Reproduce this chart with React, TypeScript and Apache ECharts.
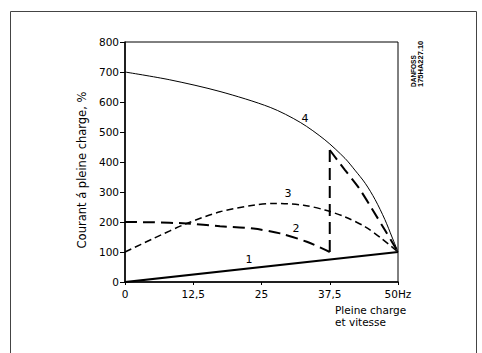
import React, { useEffect, useRef } from "react";
import * as echarts from "echarts";

const xTickValues = [0, 12.5, 25, 37.5, 50];
const xTickLabels = ["0", "12,5", "25", "37,5", "50Hz"];
const yTickValues = [0, 100, 200, 300, 400, 500, 600, 700, 800];

const curve1 = [[0, 0], [50, 100]];
const curve2Left = [[0, 200], [5, 199], [11.3, 195], [17.4, 186], [23.5, 178], [28.4, 162], [33.3, 134], [37.5, 100]];
const curve2Drop = [[37.5, 100], [37.5, 440]];
const curve2Right = [[37.5, 440], [40.3, 373], [42.7, 317], [45.2, 245], [47.6, 173], [50, 100]];
const curve3 = [[0, 100], [5.2, 145], [11.3, 195], [17.4, 234], [23.5, 256], [27.2, 262], [32.7, 256], [36.6, 240], [40.3, 217], [44, 184], [47, 145], [50, 100]];
const curve4 = [[0, 700], [8.2, 674], [17.4, 635], [26.6, 582], [32.1, 532], [36.6, 474], [40.3, 412], [42.1, 373], [44, 329], [45.8, 275], [47.6, 208], [48.9, 150], [50, 100]];

const curveNames = ["1", "2", "3", "4"];
const yAxisTitle = "Courant á pleine charge, %";
const xAxisTitle = "Pleine charge\net vitesse";
const stampLines = ["DANFOSS", "175HA227.10"];

const FONT = "DejaVu Sans";

export default function App() {
  const ref = useRef<HTMLDivElement>(null);
  useEffect(() => {
    if (!ref.current) return;
    const chart = echarts.init(ref.current, undefined, { renderer: "svg" });
    const lineSeries = (name: string, data: number[][], width: number, type: any, smooth: boolean | number) => ({
      name,
      type: "line",
      data,
      smooth,
      showSymbol: false,
      symbol: "none",
      silent: true,
      lineStyle: { color: "#000", width, type },
    });
    chart.setOption({
      animation: false,
      backgroundColor: "#fff",
      grid: { left: 125, top: 42, right: 84, bottom: 71, show: true, borderColor: "#000", borderWidth: 1, backgroundColor: "transparent" },
      xAxis: {
        type: "value",
        min: 0,
        max: 50,
        interval: 12.5,
        splitLine: { show: false },
        axisLine: { lineStyle: { color: "#000", width: 1.5 } },
        axisTick: { show: true, inside: false, length: 3, lineStyle: { color: "#000", width: 1 } },
        axisLabel: {
          margin: 6,
          color: "#000",
          fontFamily: FONT,
          fontSize: 10.5,
          formatter: (v: number) => {
            const i = xTickValues.indexOf(v);
            return i >= 0 ? xTickLabels[i] : "";
          },
        },
      },
      yAxis: {
        type: "value",
        min: 0,
        max: 800,
        interval: 100,
        name: yAxisTitle,
        nameLocation: "middle",
        nameGap: 37,
        nameRotate: 90,
        nameTextStyle: { color: "#000000", fontFamily: FONT, fontSize: 11.5, padding: [0, 16, 0, 0] },
        splitLine: { show: false },
        axisLine: { lineStyle: { color: "#000", width: 1.5 } },
        axisTick: { show: true, inside: false, length: 5, lineStyle: { color: "#000", width: 1 } },
        axisLabel: {
          margin: 6,
          color: "#000",
          fontFamily: FONT,
          fontSize: 10.5,
          formatter: (v: number) => (yTickValues.indexOf(v) >= 0 ? String(v) : ""),
        },
      },
      series: [
        lineSeries(curveNames[0], curve1, 2.2, "solid", false),
        lineSeries(curveNames[1], curve2Left, 2, [12, 6], 0.3),
        lineSeries(curveNames[1], curve2Drop, 2, [12, 6], false),
        lineSeries(curveNames[1], curve2Right, 2, [12, 6], 0.3),
        lineSeries(curveNames[2], curve3, 1.5, [7, 4], 0.3),
        lineSeries(curveNames[3], curve4, 1, "solid", 0.3),
      ],
      graphic: [
        { type: "rect", silent: true, shape: { x: 10.5, y: 11.5, width: 466, height: 360 }, style: { fill: "none", stroke: "#444", lineWidth: 1 } },
        { type: "text", x: 249, y: 259, style: { text: curveNames[0], font: `11px "${FONT}"`, fill: "#000", align: "center", verticalAlign: "middle" } },
        { type: "text", x: 296, y: 228, style: { text: curveNames[1], font: `11px "${FONT}"`, fill: "#000", align: "center", verticalAlign: "middle" } },
        { type: "text", x: 288, y: 193, style: { text: curveNames[2], font: `11px "${FONT}"`, fill: "#000", align: "center", verticalAlign: "middle" } },
        { type: "text", x: 305, y: 118, style: { text: curveNames[3], font: `11px "${FONT}"`, fill: "#000", align: "center", verticalAlign: "middle" } },
        { type: "text", x: 335, y: 304, style: { text: xAxisTitle, font: `10.5px "${FONT}"`, fill: "#000", align: "left", verticalAlign: "top", lineHeight: 12 } },
        { type: "text", x: 413, y: 87, rotation: Math.PI / 2, style: { text: stampLines[0], font: `bold 6.5px "Liberation Sans"`, fill: "#000", align: "left", verticalAlign: "middle" } },
        { type: "text", x: 420.5, y: 87, rotation: Math.PI / 2, style: { text: stampLines[1], font: `bold 7.5px "Liberation Sans"`, fill: "#000", align: "left", verticalAlign: "middle" } },
      ],
    });
    return () => chart.dispose();
  }, []);
  return <div ref={ref} style={{ position: "fixed", left: 0, top: 0, width: 482, height: 353 }} />;
}
